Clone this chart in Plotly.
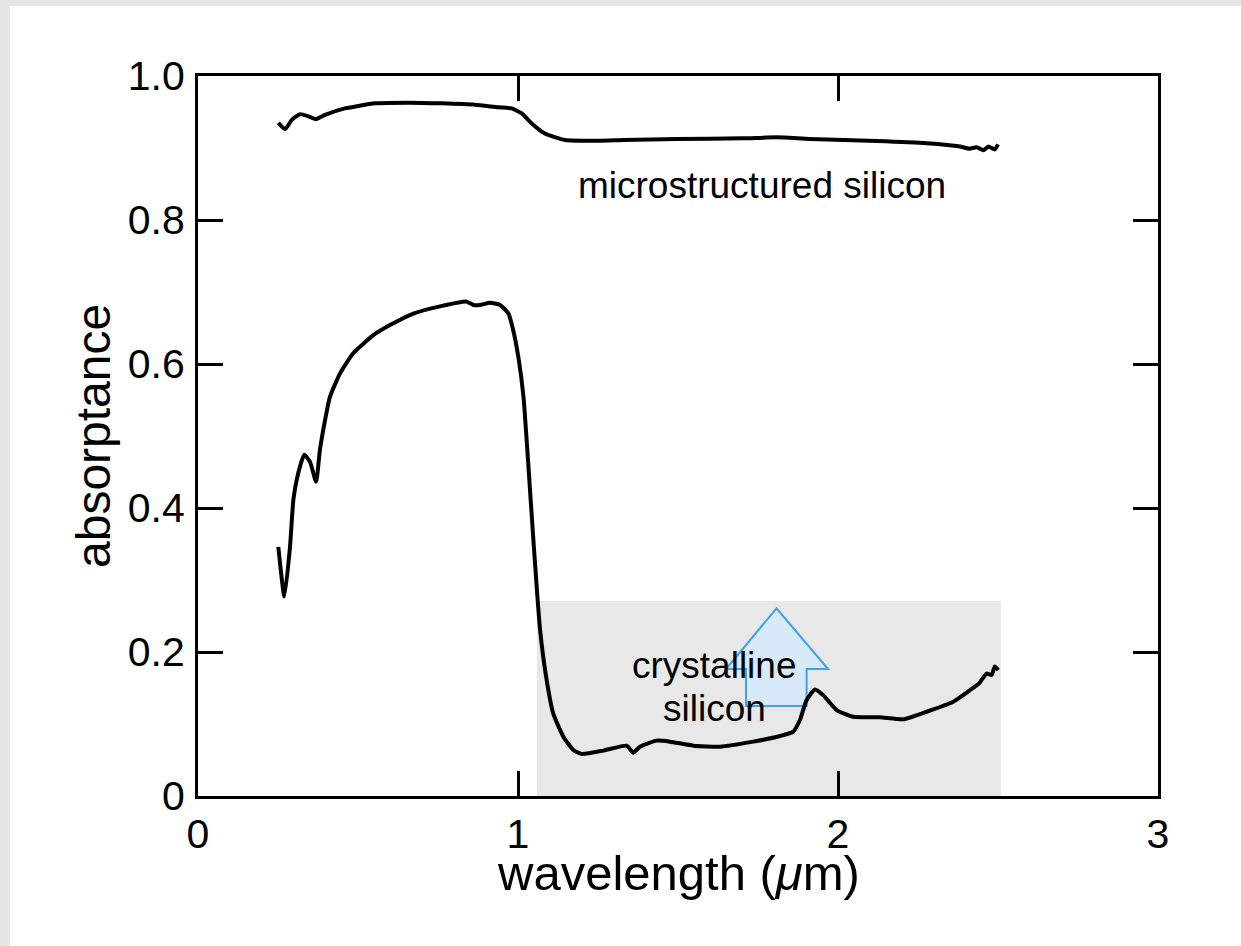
import plotly.graph_objects as go

# microstructured silicon (top curve)
ms_x = [0.251, 0.272, 0.293, 0.319, 0.345, 0.368, 0.397, 0.459, 0.553, 0.657, 0.762,
        0.866, 0.938, 0.980, 1.012, 1.043, 1.084, 1.147, 1.251, 1.330, 1.496, 1.704,
        1.808, 1.912, 2.121, 2.277, 2.381, 2.410, 2.433, 2.455, 2.470, 2.490, 2.500]
ms_y = [0.935, 0.926, 0.939, 0.947, 0.944, 0.940, 0.946, 0.955, 0.962, 0.963, 0.962,
        0.960, 0.9565, 0.955, 0.948, 0.934, 0.920, 0.911, 0.910, 0.911, 0.9125, 0.9134,
        0.9148, 0.9125, 0.9097, 0.9065, 0.902, 0.899, 0.901, 0.897, 0.902, 0.898, 0.905]

# crystalline silicon (bottom curve)
cs_x = [0.251, 0.270, 0.2875, 0.298, 0.313, 0.332, 0.350, 0.369, 0.381, 0.397, 0.4125,
        0.444, 0.485, 0.548, 0.600, 0.673, 0.756, 0.840, 0.860, 0.881, 0.9125, 0.944,
        0.970, 0.985, 1.001, 1.017, 1.032, 1.048, 1.069, 1.0896, 1.110, 1.1417, 1.173,
        1.199, 1.2667, 1.3396, 1.360, 1.381, 1.433, 1.475, 1.548, 1.631, 1.7354, 1.819,
        1.860, 1.881, 1.902, 1.928, 1.954, 1.996, 2.048, 2.131, 2.204, 2.277, 2.360,
        2.4125, 2.440, 2.4646, 2.480, 2.490, 2.501]
cs_y = [0.346, 0.277, 0.346, 0.411, 0.448, 0.474, 0.464, 0.4366, 0.4806, 0.522, 0.5546,
        0.587, 0.615, 0.640, 0.654, 0.670, 0.680, 0.6866, 0.682, 0.682, 0.685, 0.682,
        0.670, 0.647, 0.610, 0.555, 0.462, 0.356, 0.2306, 0.161, 0.1148, 0.0824, 0.0639,
        0.0583, 0.0630, 0.0699, 0.0602, 0.0685, 0.0769, 0.0755, 0.0699, 0.0685, 0.0755, 0.0833,
        0.0894, 0.1056, 0.1333, 0.148, 0.140, 0.1194, 0.110, 0.1093, 0.1065, 0.117, 0.131,
        0.147, 0.156, 0.170, 0.168, 0.180, 0.175]

x_ticks = [0, 1, 2, 3]
x_labels = ["0", "1", "2", "3"]
y_ticks = [0, 0.2, 0.4, 0.6, 0.8, 1.0]
y_labels = ["0", "0.2", "0.4", "0.6", "0.8", "1.0"]

# highlighted region and arrow outline (data coordinates)
region_x = [1.059, 2.509]
region_y = [0, 0.271]
arrow_x = [1.7125, 1.7125, 1.650, 1.808, 1.969, 1.902, 1.902]
arrow_y = [0.125, 0.1764, 0.1764, 0.2607, 0.1764, 0.1764, 0.125]

FONT = "Liberation Sans, Arial, Helvetica, sans-serif"

fig = go.Figure()
fig.add_trace(go.Scatter(x=ms_x, y=ms_y, mode="lines",
                         line=dict(color="black", width=4, shape="spline", smoothing=0.5),
                         showlegend=False))
fig.add_trace(go.Scatter(x=cs_x, y=cs_y, mode="lines",
                         line=dict(color="black", width=4, shape="spline", smoothing=0.5),
                         showlegend=False))

arrow_path = "M " + " L ".join(f"{a},{b}" for a, b in zip(arrow_x, arrow_y)) + " Z"

shapes = [
    dict(type="rect", xref="x", yref="y", x0=region_x[0], x1=region_x[1],
         y0=region_y[0], y1=region_y[1], fillcolor="#e8e8e8", line=dict(width=0),
         layer="below"),
    dict(type="path", xref="x", yref="y", path=arrow_path,
         fillcolor="#d8e9f7", line=dict(color="#3ea2e3", width=2), layer="below"),
    # light grey page edges
    dict(type="rect", xref="paper", yref="paper", x0=-0.3, x1=(10 - 198) / 960,
         y0=-0.5, y1=1.3, fillcolor="#e6e6e6", line=dict(width=0), layer="below"),
    dict(type="rect", xref="paper", yref="paper", x0=-0.3, x1=1.3,
         y0=(796 - 6) / 720, y1=1.3, fillcolor="#e6e6e6", line=dict(width=0), layer="below"),
]

annotations = [
    dict(x=1.7625, y=0.8486, xref="x", yref="y", text="microstructured silicon",
         showarrow=False, font=dict(family=FONT, size=37, color="black")),
    dict(x=1.6125, y=0.1819, xref="x", yref="y", text="crystalline",
         showarrow=False, font=dict(family=FONT, size=37, color="black")),
    dict(x=1.6125, y=0.1222, xref="x", yref="y", text="silicon",
         showarrow=False, font=dict(family=FONT, size=37, color="black")),
    # axis titles
    dict(x=0.5, y=(796 - 873) / 720, xref="paper", yref="paper",
         text="wavelength (<i>μ</i>m)", showarrow=False, xanchor="center", yanchor="middle",
         font=dict(family=FONT, size=49, color="black")),
    dict(x=(93 - 198) / 960, y=(796 - 436) / 720, xref="paper", yref="paper",
         text="absorptance", showarrow=False, textangle=-90,
         xanchor="center", yanchor="middle",
         font=dict(family=FONT, size=48, color="black")),
]

axis_common = dict(showgrid=False, zeroline=False, showline=True, linecolor="black",
                   linewidth=3, mirror="ticks", ticks="inside", ticklen=25,
                   tickwidth=2.5, tickcolor="black",
                   tickfont=dict(family=FONT, size=41, color="black"))

fig.update_layout(
    width=1241, height=946,
    margin=dict(l=198, r=83, t=76, b=150),
    paper_bgcolor="white", plot_bgcolor="white",
    font=dict(family=FONT, color="black"),
    shapes=shapes, annotations=annotations,
    xaxis=dict(range=[0, 3], tickvals=x_ticks, ticktext=x_labels,
               ticklabelstandoff=0, **axis_common),
    yaxis=dict(range=[0, 1], tickvals=y_ticks, ticktext=y_labels,
               ticklabelstandoff=2, **axis_common),
)

fig.write_html("out.html")
